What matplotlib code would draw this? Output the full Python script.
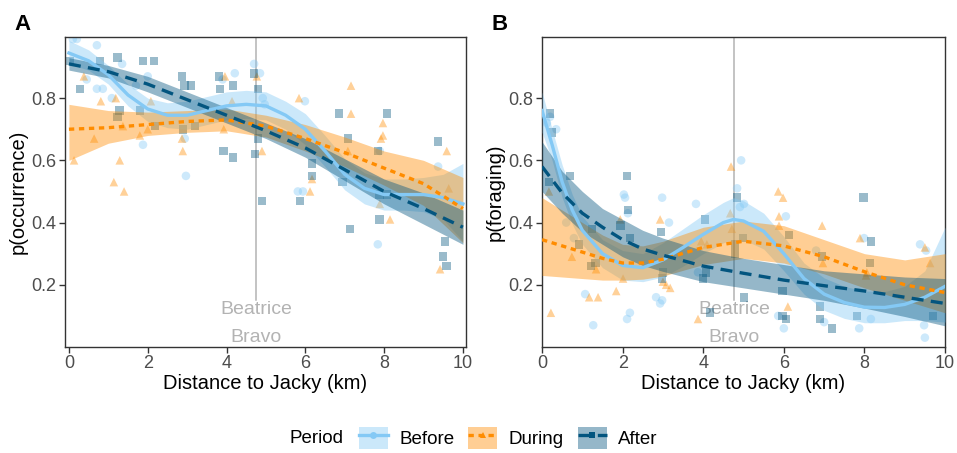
import numpy as np
import matplotlib.pyplot as plt
from matplotlib.patches import Patch
from matplotlib.lines import Line2D
from matplotlib.legend_handler import HandlerTuple

plt.rcParams['font.family'] = ['Liberation Sans', 'DejaVu Sans']

periods = ['Before', 'During', 'After']
colors = {'Before': '#84c9f5', 'During': '#ff8c00', 'After': '#03557f'}
markers = {'Before': 'o', 'During': '^', 'After': 's'}
styles = {'Before': '-', 'During': (0, (1.6, 1.4)), 'After': (0, (3.6, 2.2))}

site_x = 4.76

# ---------- panel A: occurrence, raw points ----------
occ_before_x = [0.1, 0.2, 0.71, 0.71, 0.86, 1.09, 1.35, 2.0, 1.88, 2.97, 2.94, 4.21, 4.7, 4.85,
                4.92, 4.97, 5.99, 3.9, 5.81, 5.94, 9.37, 7.84, 7.89, 0.45, 1.7]
occ_before_y = [0.99, 0.99, 0.97, 0.83, 0.83, 0.80, 0.91, 0.87, 0.65, 0.55, 0.67, 0.88, 0.91, 0.88,
                0.80, 0.78, 0.79, 0.86, 0.50, 0.50, 0.58, 0.33, 0.63, 0.86, 0.84]
occ_during_x = [0.13, 0.64, 0.38, 0.81, 1.19, 1.29, 1.14, 1.40, 1.37, 1.80, 2.0, 2.08, 2.87, 2.89,
                3.96, 3.93, 4.77, 4.90, 5.84, 6.17, 6.12, 4.14, 7.16, 7.16, 7.97, 7.97, 7.92,
                8.15, 7.89, 9.59, 9.64, 9.42, 7.08]
occ_during_y = [0.60, 0.67, 0.87, 0.79, 0.80, 0.60, 0.53, 0.50, 0.71, 0.68, 0.70, 0.79, 0.67, 0.63,
                0.87, 0.70, 0.87, 0.63, 0.80, 0.54, 0.50, 0.79, 0.84, 0.75, 0.72, 0.68, 0.67,
                0.41, 0.46, 0.63, 0.51, 0.25, 0.63]
occ_after_x = [0.03, 0.28, 0.79, 1.24, 1.88, 2.16, 1.29, 1.24, 1.80, 2.18, 2.87, 2.94, 3.10, 2.89,
               3.20, 3.81, 4.16, 3.83, 4.70, 4.80, 4.80, 3.93, 4.16, 4.72, 4.90, 6.17, 6.17,
               5.86, 6.85, 8.07, 7.08, 7.84, 6.95, 7.89, 8.07, 7.89, 7.13, 9.37, 9.54, 9.49, 9.59]
occ_after_y = [0.92, 0.83, 0.92, 0.93, 0.92, 0.92, 0.76, 0.74, 0.76, 0.71, 0.87, 0.84, 0.84, 0.70,
               0.71, 0.87, 0.84, 0.83, 0.88, 0.83, 0.67, 0.63, 0.61, 0.62, 0.47, 0.59, 0.55,
               0.47, 0.75, 0.75, 0.67, 0.63, 0.53, 0.49, 0.49, 0.41, 0.38, 0.66, 0.34, 0.29, 0.26]

# panel A: smooth fits
occ_fit_x_fine = [0, 0.5, 1, 1.5, 2, 2.5, 3, 3.5, 4, 4.5, 5, 5.5, 6, 6.5, 7, 7.5, 8, 8.5, 9, 9.5, 10]
occ_before_fit = [0.945, 0.92, 0.875, 0.81, 0.765, 0.745, 0.745, 0.76, 0.775, 0.78, 0.775, 0.745,
                  0.70, 0.63, 0.555, 0.51, 0.49, 0.49, 0.49, 0.48, 0.46]
occ_before_lo = [0.91, 0.89, 0.845, 0.775, 0.725, 0.705, 0.70, 0.715, 0.73, 0.735, 0.73, 0.70,
                 0.65, 0.58, 0.505, 0.46, 0.44, 0.44, 0.435, 0.41, 0.34]
occ_before_hi = [0.985, 0.955, 0.905, 0.845, 0.80, 0.785, 0.79, 0.805, 0.82, 0.825, 0.82, 0.79,
                 0.75, 0.68, 0.605, 0.56, 0.54, 0.54, 0.545, 0.555, 0.59]
occ_fit_x = [0, 1, 2, 3, 4, 5, 6, 7, 8, 9, 10]
occ_during_fit = [0.70, 0.705, 0.715, 0.725, 0.73, 0.71, 0.67, 0.625, 0.575, 0.525, 0.445]
occ_during_lo = [0.60, 0.655, 0.68, 0.69, 0.695, 0.675, 0.63, 0.58, 0.52, 0.455, 0.335]
occ_during_hi = [0.78, 0.76, 0.755, 0.76, 0.765, 0.745, 0.715, 0.675, 0.63, 0.60, 0.545]
occ_after_fit = [0.91, 0.885, 0.845, 0.795, 0.745, 0.695, 0.64, 0.57, 0.50, 0.445, 0.385]
occ_after_lo = [0.89, 0.865, 0.82, 0.77, 0.72, 0.67, 0.61, 0.535, 0.46, 0.395, 0.33]
occ_after_hi = [0.93, 0.905, 0.87, 0.82, 0.77, 0.72, 0.67, 0.605, 0.54, 0.495, 0.44]

# ---------- panel B: foraging, raw points ----------
for_before_x = [0.12, 0.35, 0.2, 2.03, 2.06, 2.13, 2.98, 3.15, 1.07, 1.27, 2.11, 2.18, 2.83, 2.98,
                2.93, 0.6, 0.79, 4.94, 4.84, 4.91, 5.01, 3.82, 6.05, 5.86, 6.0, 3.87, 7.99,
                9.38, 9.53, 8.16, 7.87, 7.0, 9.48, 9.5, 6.8]
for_before_y = [0.72, 0.70, 0.74, 0.49, 0.48, 0.43, 0.48, 0.40, 0.17, 0.07, 0.09, 0.11, 0.16, 0.15,
                0.14, 0.40, 0.35, 0.60, 0.51, 0.45, 0.46, 0.46, 0.42, 0.10, 0.06, 0.24, 0.35,
                0.33, 0.31, 0.09, 0.06, 0.08, 0.07, 0.03, 0.31]
for_during_x = [0.22, 0.74, 1.17, 1.39, 1.84, 1.94, 2.93, 3.0, 3.08, 3.18, 2.01, 1.34, 0.17,
                4.69, 3.87, 5.86, 5.98, 5.88, 5.88, 6.10, 4.67, 4.71, 3.95, 4.09,
                6.95, 7.89, 9.50, 8.04, 9.63, 6.97, 8.06]
for_during_y = [0.11, 0.29, 0.16, 0.16, 0.18, 0.41, 0.41, 0.21, 0.20, 0.19, 0.22, 0.25, 0.50,
                0.58, 0.09, 0.50, 0.48, 0.42, 0.39, 0.13, 0.43, 0.38, 0.34, 0.33,
                0.39, 0.35, 0.32, 0.23, 0.27, 0.27, 0.24]
for_after_x = [0.2, 0.25, 0.17, 0.69, 2.11, 2.13, 1.94, 1.24, 2.18, 0.92, 1.22, 2.95, 3.0, 2.98,
               1.32, 4.04, 4.84, 4.99, 4.79, 4.79, 6.13, 3.99, 4.07, 5.96, 5.01, 4.17, 5.96,
               6.05, 7.97, 8.16, 8.14, 6.90, 6.90, 7.20, 7.82, 9.70, 6.95]
for_after_y = [0.75, 0.69, 0.53, 0.55, 0.55, 0.44, 0.39, 0.38, 0.35, 0.33, 0.26, 0.37, 0.24, 0.22,
               0.27, 0.41, 0.48, 0.35, 0.33, 0.30, 0.36, 0.22, 0.24, 0.18, 0.16, 0.11, 0.10,
               0.09, 0.48, 0.34, 0.27, 0.13, 0.09, 0.06, 0.10, 0.10, 0.29]

# panel B: smooth fits
for_fit_x_fine = [0, 0.25, 0.5, 0.75, 1, 1.5, 2, 2.5, 3, 3.5, 4, 4.5, 4.75, 5, 5.5, 6, 6.5, 7,
                  7.5, 8, 8.5, 9, 9.5, 10]
for_before_fit = [0.76, 0.65, 0.53, 0.44, 0.375, 0.30, 0.262, 0.255, 0.28, 0.32, 0.362, 0.40,
                  0.41, 0.405, 0.372, 0.30, 0.22, 0.17, 0.143, 0.128, 0.127, 0.137, 0.16, 0.195]
for_before_lo = [0.69, 0.60, 0.48, 0.395, 0.33, 0.255, 0.215, 0.21, 0.225, 0.26, 0.30, 0.335,
                 0.345, 0.345, 0.315, 0.245, 0.17, 0.118, 0.092, 0.078, 0.078, 0.085, 0.085, 0.08]
for_before_hi = [0.82, 0.70, 0.585, 0.49, 0.42, 0.345, 0.31, 0.30, 0.335, 0.38, 0.425, 0.465,
                 0.48, 0.47, 0.43, 0.355, 0.27, 0.222, 0.195, 0.18, 0.178, 0.195, 0.245, 0.385]
for_fit_x = [0, 0.5, 1, 1.5, 2, 2.5, 3, 4, 5, 6, 7, 8, 9, 10]
for_during_fit = [0.345, 0.325, 0.305, 0.285, 0.27, 0.27, 0.282, 0.32, 0.34, 0.325, 0.29, 0.242,
                  0.20, 0.175]
for_during_lo = [0.23, 0.225, 0.22, 0.215, 0.215, 0.218, 0.228, 0.265, 0.285, 0.27, 0.235, 0.19,
                 0.15, 0.11]
for_during_hi = [0.48, 0.44, 0.40, 0.36, 0.33, 0.325, 0.34, 0.385, 0.405, 0.39, 0.345, 0.30,
                 0.28, 0.30]
for_after_fit = [0.58, 0.495, 0.43, 0.385, 0.345, 0.315, 0.295, 0.26, 0.237, 0.215, 0.197, 0.18,
                 0.16, 0.14]
for_after_lo = [0.50, 0.43, 0.37, 0.33, 0.29, 0.262, 0.243, 0.21, 0.19, 0.17, 0.15, 0.125,
                0.098, 0.068]
for_after_hi = [0.66, 0.565, 0.50, 0.445, 0.41, 0.375, 0.35, 0.31, 0.285, 0.265, 0.245, 0.235,
                0.225, 0.22]

panels = [
    {
        'label': 'A', 'ylabel': 'p(occurrence)', 'xlim': (-0.1, 10.08),
        'pos': [0.0679, 0.234, 0.4191, 0.684],
        'points': {'Before': (occ_before_x, occ_before_y), 'During': (occ_during_x, occ_during_y),
                   'After': (occ_after_x, occ_after_y)},
        'fits': {'Before': (occ_fit_x_fine, occ_before_fit, occ_before_lo, occ_before_hi),
                 'During': (occ_fit_x, occ_during_fit, occ_during_lo, occ_during_hi),
                 'After': (occ_fit_x, occ_after_fit, occ_after_lo, occ_after_hi)},
    },
    {
        'label': 'B', 'ylabel': 'p(foraging)', 'xlim': (0, 10.0),
        'pos': [0.5664, 0.234, 0.4211, 0.684],
        'points': {'Before': (for_before_x, for_before_y), 'During': (for_during_x, for_during_y),
                   'After': (for_after_x, for_after_y)},
        'fits': {'Before': (for_fit_x_fine, for_before_fit, for_before_lo, for_before_hi),
                 'During': (for_fit_x, for_during_fit, for_during_lo, for_during_hi),
                 'After': (for_fit_x, for_after_fit, for_after_lo, for_after_hi)},
    },
]

fig = plt.figure(figsize=(9.57, 4.53), dpi=100)
edge = '#333333'

for p in panels:
    ax = fig.add_axes(p['pos'])
    ax.axvline(site_x, ymin=0.15 / 0.996, ymax=1, color='#b3b3b3', lw=1.1, zorder=1)
    ax.text(site_x, 0.12, 'Beatrice', color='#b3b3b3', fontsize=14, ha='center', va='center', zorder=1)
    ax.text(site_x, 0.032, 'Bravo', color='#b3b3b3', fontsize=14, ha='center', va='center', zorder=1)

    for per in periods:
        px, py = p['points'][per]
        ax.scatter(px, py, marker=markers[per], s=38, color=colors[per], alpha=0.4,
                   edgecolors='none', zorder=2)
    for per in periods:
        fx, fy, lo, hi = p['fits'][per]
        ax.fill_between(fx, lo, hi, color=colors[per], alpha=0.42, lw=0, zorder=3)
    for per in periods:
        fx, fy, lo, hi = p['fits'][per]
        ax.plot(fx, fy, color=colors[per], lw=2.4, ls=styles[per], zorder=4)

    ax.set_xlim(*p['xlim'])
    ax.set_ylim(0.0, 0.996)
    ax.set_xticks([0, 2, 4, 6, 8, 10])
    ax.set_yticks([0.2, 0.4, 0.6, 0.8])
    ax.tick_params(direction='out', length=4, width=1, color=edge, labelsize=13,
                   labelcolor='#4d4d4d', pad=2)
    for s in ax.spines.values():
        s.set_color(edge)
        s.set_linewidth(1)
    ax.set_xlabel('Distance to Jacky (km)', fontsize=14.5, labelpad=1)
    ax.set_ylabel(p['ylabel'], fontsize=14.5, labelpad=3)
    ax.text(-0.125, 1.04, p['label'], transform=ax.transAxes, fontsize=16, fontweight='bold',
            ha='left', va='center')

# legend at the bottom
handles = []
for per in periods:
    box = Patch(facecolor=colors[per], alpha=0.42, edgecolor='none')
    ln = Line2D([], [], color=colors[per], lw=2.4, ls=styles[per], marker=markers[per],
                markersize=5, markeredgewidth=0)
    handles.append((box, ln))
fig.text(0.303, 0.033, 'Period', fontsize=13.5, ha='left', va='center')
fig.legend(handles, periods, handler_map={tuple: HandlerTuple(ndivide=1)},
           loc='center left', bbox_to_anchor=(0.375, 0.033), ncol=3, frameon=False, fontsize=13.5,
           handlelength=1.55, handleheight=1.5, columnspacing=0.75, handletextpad=0.6,
           borderpad=0, borderaxespad=0)

fig.savefig('out.png', dpi=100)
